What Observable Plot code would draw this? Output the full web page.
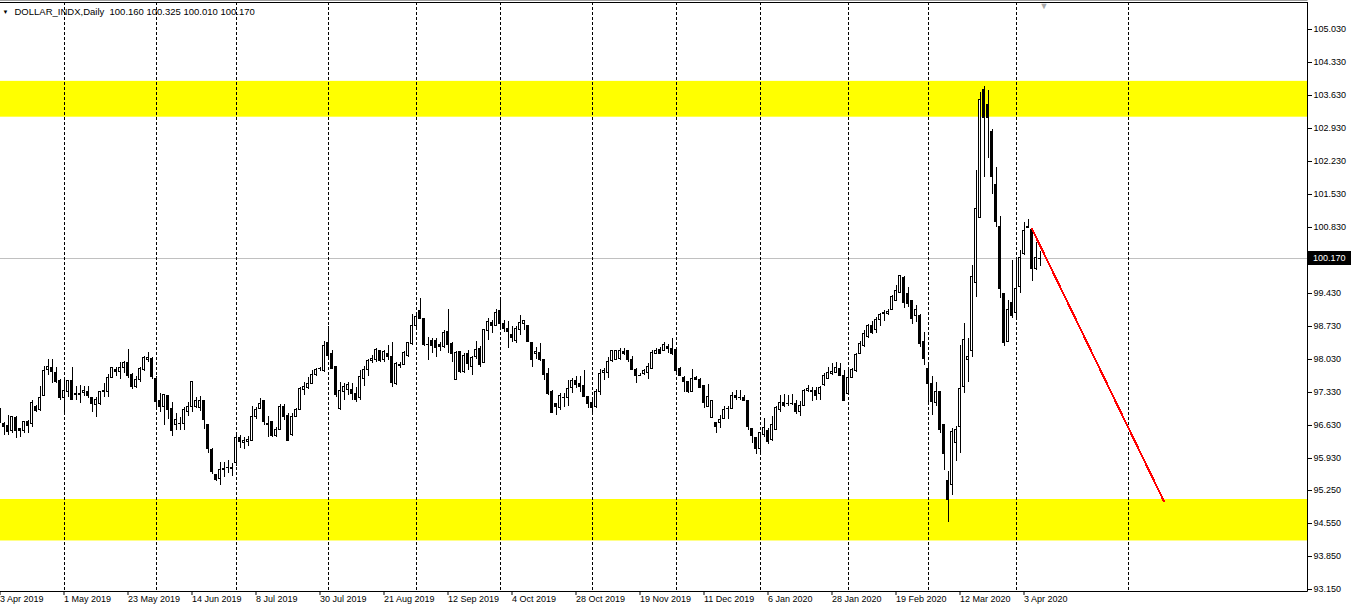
<!DOCTYPE html>
<html><head><meta charset="utf-8">
<script src="https://cdn.jsdelivr.net/npm/d3@7"></script>
<script src="https://cdn.jsdelivr.net/npm/@observablehq/plot@0.6"></script>
<style>
html,body{margin:0;padding:0;background:#fff;}
#chart{position:relative;width:1355px;height:604px;overflow:hidden;}
</style></head><body><div id="chart"></div>
<script>
const symbolName = "DOLLAR_INDX,Daily";
const lastOHLC = [100.160, 100.325, 100.010, 100.170];

const opens = [96.70,
96.67,96.61,96.51,96.79,96.55,96.51,96.71,96.67,97.03,96.95,
97.25,97.80,97.85,97.75,97.58,97.22,97.34,97.58,97.28,97.29,
97.32,97.35,97.22,97.07,97.08,97.34,97.35,97.64,97.80,97.76,
97.85,97.95,97.70,97.44,97.60,97.80,98.01,98.05,97.62,97.14,
97.02,97.25,96.97,96.63,96.66,96.67,96.91,97.02,97.02,97.00,
97.14,96.65,96.11,95.58,95.50,95.69,95.72,95.71,95.83,96.37,
96.26,96.28,96.30,96.82,96.98,97.14,96.67,96.70,96.40,96.54,
97.02,96.84,96.42,96.81,96.96,97.39,97.43,97.51,97.71,97.82,
97.78,98.39,98.14,97.88,96.98,97.35,97.39,97.39,97.30,97.22,
97.62,97.80,97.99,98.01,98.21,98.02,98.15,98.09,97.50,97.90,
97.92,98.11,98.36,98.74,99.05,98.88,98.35,98.43,98.43,98.33,
98.29,98.62,98.36,97.60,98.19,97.76,98.15,97.88,98.08,98.26,
97.95,98.63,98.81,98.74,99.05,98.79,98.68,98.54,98.43,98.65,
98.79,98.73,98.38,98.14,98.16,98.02,97.73,97.34,97.08,97.00,
97.21,97.21,97.43,97.58,97.51,97.46,97.23,97.10,97.02,97.34,
97.74,97.75,97.99,98.02,98.04,98.19,98.20,98.01,97.81,97.69,
97.73,97.74,97.83,98.15,98.24,98.20,98.29,98.26,98.24,97.83,
97.64,97.55,97.35,97.64,97.60,97.46,97.03,96.79,96.69,96.68,
96.77,96.98,96.97,97.25,97.23,97.22,97.15,96.56,96.37,96.14,
96.43,96.52,96.33,96.54,96.96,97.11,97.08,97.10,97.09,96.91,
97.05,97.37,97.37,97.37,97.29,97.48,97.62,97.73,97.75,97.83,
97.69,97.29,97.64,97.78,98.15,98.31,98.50,98.74,98.65,98.86,
99.02,98.99,99.08,99.28,99.44,99.76,99.41,99.27,98.96,98.96,
98.40,97.82,97.50,97.10,97.34,96.63,95.46,95.37,96.26,96.60,
97.44,98.02,98.22,99.66,101.04,103.74,103.42,102.85,101.74,100.85,
99.41,98.40,99.23,99.01,99.57,100.27,100.85,100.78,99.95,100.16];

const highs = [96.98,
96.70,96.84,96.82,96.81,96.56,96.72,96.74,97.15,97.05,97.46,
97.88,98.04,98.04,97.85,97.60,97.58,97.58,97.85,97.46,97.48,
97.46,97.46,97.22,97.22,97.35,97.51,97.71,97.85,97.85,97.97,
97.99,98.24,97.73,97.66,97.85,98.09,98.18,98.07,97.66,97.30,
97.29,97.27,97.11,96.88,96.79,97.02,97.12,97.56,97.23,97.25,
97.16,96.65,96.14,95.60,95.85,95.85,95.89,95.82,96.42,96.42,
96.38,96.40,97.03,97.02,97.20,97.17,96.81,96.72,96.59,97.07,
97.08,96.88,96.89,96.98,97.44,97.55,97.64,97.80,97.83,97.85,
98.42,98.72,98.22,97.88,97.55,97.51,97.55,97.51,97.44,97.80,
97.88,98.02,98.11,98.26,98.22,98.22,98.33,98.38,97.97,97.97,
98.19,98.40,98.98,99.03,99.32,98.89,98.50,98.48,98.47,98.40,
98.65,99.08,98.40,98.19,98.20,98.15,98.21,98.09,98.42,98.31,
98.66,98.89,98.86,99.10,99.34,98.86,98.84,98.72,98.72,98.96,
98.86,98.75,98.40,98.29,98.36,98.04,97.83,97.37,97.10,97.30,
97.30,97.58,97.62,97.66,97.66,97.80,97.23,97.16,97.39,97.81,
97.83,98.08,98.23,98.23,98.26,98.27,98.22,98.09,97.83,97.74,
97.81,97.94,98.21,98.27,98.28,98.38,98.35,98.47,98.26,97.87,
97.67,97.56,97.81,97.67,97.62,97.48,97.49,97.16,96.70,96.84,
97.03,97.03,97.34,97.37,97.37,97.27,97.16,96.57,96.38,96.49,
96.77,96.56,96.81,97.03,97.27,97.29,97.27,97.29,97.17,97.13,
97.39,97.48,97.44,97.44,97.46,97.74,97.87,97.95,97.97,97.94,
97.80,97.81,97.83,98.15,98.42,98.65,98.77,98.84,98.93,99.01,
99.06,99.08,99.38,99.60,99.81,99.79,99.55,99.28,99.18,98.98,
98.61,97.97,97.66,97.55,97.36,96.63,95.66,96.56,96.60,98.33,
98.80,98.47,100.02,102.04,103.70,103.82,103.74,102.90,102.11,101.06,
99.41,99.28,100.12,100.12,100.34,100.94,101.01,100.80,100.52,100.325];

const lows = [96.67,
96.42,96.42,96.47,96.35,96.38,96.45,96.45,96.59,96.91,96.93,
97.25,97.70,97.53,97.53,97.16,96.86,97.23,97.17,97.17,97.10,
97.25,97.20,96.91,96.79,97.05,97.22,97.22,97.62,97.66,97.60,
97.73,97.63,97.39,97.41,97.55,97.78,97.97,97.61,97.02,96.91,
96.64,96.75,96.40,96.52,96.52,96.52,96.81,96.91,96.98,96.93,
96.54,96.04,95.60,95.44,95.36,95.53,95.62,95.55,95.75,96.14,
96.11,96.18,96.30,96.75,96.96,96.63,96.38,96.38,96.37,96.52,
96.74,96.30,96.40,96.79,96.95,97.27,97.39,97.51,97.66,97.78,
97.76,98.02,97.83,97.23,96.95,97.16,97.27,97.16,97.12,97.16,
97.46,97.66,97.94,97.97,97.97,97.97,98.01,97.44,97.48,97.83,
97.90,98.08,98.33,98.65,98.87,98.31,98.01,98.15,98.08,98.19,
98.26,98.15,97.97,97.58,97.74,97.74,97.80,97.69,98.02,97.85,
97.94,98.43,98.59,98.72,98.65,98.61,98.27,98.40,98.36,98.54,
98.65,98.38,97.87,98.04,97.99,97.58,97.27,96.88,96.84,96.95,
97.02,97.03,97.30,97.41,97.34,97.22,97.00,96.88,96.98,97.27,
97.58,97.62,97.97,98.01,98.01,98.11,97.97,97.80,97.53,97.66,
97.69,97.60,97.81,98.13,98.13,98.19,98.16,98.12,97.71,97.66,
97.34,97.30,97.32,97.58,97.41,97.00,97.02,96.77,96.47,96.56,
96.76,96.76,96.96,97.16,97.15,97.13,96.52,96.24,96.02,95.99,
96.38,96.23,96.30,96.52,96.91,97.02,97.03,97.05,96.86,96.81,
97.03,97.34,97.13,97.16,97.16,97.46,97.60,97.69,97.73,97.66,
97.15,97.27,97.62,97.76,98.14,98.29,98.47,98.56,98.58,98.72,
98.84,98.96,99.06,99.25,99.42,99.11,99.13,98.77,98.82,98.28,
97.90,97.10,96.84,97.03,96.47,95.68,94.58,95.15,95.87,96.04,
97.30,97.55,98.08,99.35,101.04,101.88,102.29,101.54,100.84,99.32,
98.31,98.38,98.89,98.93,99.42,100.24,100.82,99.69,99.92,100.01];

const closes = [96.84,
96.59,96.49,96.81,96.52,96.51,96.71,96.62,97.11,96.93,97.22,
97.78,97.87,97.76,97.56,97.22,97.37,97.58,97.17,97.29,97.28,
97.37,97.25,97.09,97.16,97.33,97.37,97.64,97.84,97.76,97.85,
97.95,97.69,97.44,97.60,97.83,98.06,98.07,97.66,97.12,97.02,
97.28,96.96,96.51,96.74,96.67,96.95,97.02,97.55,97.14,97.15,
96.74,96.14,95.65,95.48,95.68,95.70,95.73,95.72,96.37,96.28,
96.31,96.33,96.82,96.96,97.09,96.70,96.66,96.40,96.54,97.02,
96.82,96.31,96.81,96.96,97.41,97.44,97.51,97.71,97.81,97.83,
98.31,98.11,97.83,97.27,97.37,97.44,97.48,97.30,97.18,97.66,
97.81,97.99,98.04,98.23,97.99,98.19,98.08,97.53,97.94,97.91,
98.16,98.38,98.75,98.93,98.89,98.34,98.35,98.31,98.27,98.29,
98.60,98.34,98.15,98.17,97.76,98.11,97.94,98.07,98.23,97.92,
98.65,98.82,98.74,99.02,98.79,98.68,98.61,98.48,98.67,98.80,
98.84,98.40,98.01,98.19,98.01,97.71,97.30,96.89,97.02,97.25,
97.22,97.41,97.57,97.48,97.44,97.23,97.08,97.00,97.34,97.73,
97.78,97.97,98.20,98.20,98.20,98.15,98.01,97.81,97.69,97.69,
97.78,97.87,98.17,98.20,98.15,98.33,98.26,98.15,97.78,97.67,
97.55,97.34,97.62,97.60,97.43,97.10,97.23,97.14,96.60,96.74,
96.96,96.99,97.25,97.22,97.23,97.15,96.60,96.40,96.14,96.47,
96.58,96.28,96.64,97.01,97.10,97.05,97.09,97.10,96.91,97.04,
97.37,97.41,97.34,97.25,97.42,97.67,97.74,97.76,97.85,97.67,
97.15,97.64,97.80,98.12,98.35,98.57,98.73,98.60,98.87,98.98,
98.99,99.04,99.35,99.49,99.81,99.23,99.20,98.89,99.07,98.36,
98.04,97.51,97.13,97.34,96.54,96.03,95.04,96.49,96.54,97.41,
98.45,98.09,99.79,101.23,103.54,103.15,103.15,101.90,100.94,99.53,
98.38,99.08,98.95,99.53,100.19,100.75,100.82,99.94,100.19,100.17];

// month separators (bar index)
const separatorBars = [16, 39, 59, 82, 104, 125, 148, 169, 190, 212, 232, 254, 282];
// date labels on the time axis (bar index and text)
const dateLabelBars = [0, 16, 32, 48, 64, 80, 96, 112, 128, 144, 160, 176, 192, 208, 224, 240, 256];
const dateLabels = ["3 Apr 2019","1 May 2019","23 May 2019","14 Jun 2019","8 Jul 2019","30 Jul 2019",
  "21 Aug 2019","12 Sep 2019","4 Oct 2019","28 Oct 2019","19 Nov 2019","11 Dec 2019",
  "6 Jan 2020","28 Jan 2020","19 Feb 2020","12 Mar 2020","3 Apr 2020"];
// price axis ticks
const priceTicks = [105.03,104.33,103.63,102.93,102.23,101.53,100.83,99.43,98.73,98.03,97.33,96.63,95.93,95.25,94.55,93.85,93.15];
// yellow zones
const zoneLow = [103.17, 94.18];
const zoneHigh = [103.93, 95.06];
// red trend line
const trendBars = [258, 291];
const trendPrices = [100.80, 95.02];

const candles = opens.map((o, i) => ({i, open: o, high: highs[i], low: lows[i], close: closes[i]}));
const zones = zoneLow.map((lo, j) => ({lo, hi: zoneHigh[j]}));
const trend = trendBars.map((b, j) => ({i: b, p: trendPrices[j]}));
const labelMap = new Map(dateLabelBars.map((b, j) => [b, dateLabels[j]]));
const lastClose = lastOHLC[3];
const fmt = d3.format(".3f");
const FONT = "'Liberation Sans', Arial, sans-serif";

const chart = Plot.plot({
  width: 1355, height: 604,
  marginLeft: 0, marginRight: 48, marginTop: 2, marginBottom: 13,
  style: {fontFamily: FONT, fontSize: "9px", color: "#000", background: "#fff", overflow: "visible"},
  x: {type: "linear", domain: [0.125, 326.875], axis: null, label: null},
  y: {domain: [93.108, 105.603], axis: null, label: null},
  marks: [
    Plot.rect(zones, {y1: "lo", y2: "hi", fill: "#ffff00"}),
    Plot.ruleY([lastClose], {stroke: "#c0c0c0", shapeRendering: "crispEdges"}),
    Plot.ruleX(separatorBars, {stroke: "#000", strokeDasharray: "3,2", shapeRendering: "crispEdges"}),
    Plot.ruleX(candles, {x: "i", y1: "low", y2: "high", stroke: "#000", shapeRendering: "crispEdges"}),
    Plot.rect(candles, {x1: d => d.i - 0.25, x2: d => d.i + 0.25, y1: "open", y2: "close",
      fill: d => d.close >= d.open ? "#fff" : "#000", stroke: "#000", shapeRendering: "crispEdges"}),
    Plot.ruleY(candles.filter(d => Math.abs(d.close - d.open) < 0.02),
      {y: "close", x1: d => d.i - 0.375, x2: d => d.i + 0.375, stroke: "#000", shapeRendering: "crispEdges"}),
    Plot.line(trend, {x: "i", y: "p", stroke: "#ff0000", strokeWidth: 2, shapeRendering: "crispEdges"}),
    Plot.axisY(priceTicks, {anchor: "right", label: null, tickSize: 4, tickPadding: 2, tickFormat: fmt, fontSize: 9}),
    Plot.axisX(dateLabelBars, {anchor: "bottom", label: null, tickSize: 4, tickPadding: 0, textAnchor: "start",
      tickFormat: d => labelMap.get(d), fontSize: 9}),
    Plot.text([symbolName + "  " + lastOHLC.map(fmt).join(" ")],
      {frameAnchor: "top-left", dx: 14, dy: 6, lineAnchor: "top", textAnchor: "start", fontSize: 9.5, fill: "#000"}),
    Plot.text(["▼"], {frameAnchor: "top-left", dx: 2, dy: 7, lineAnchor: "top", textAnchor: "start", fontSize: 6, fill: "#000"}),
    Plot.text([candles.length], {x: d => d, frameAnchor: "top", dy: 0, lineAnchor: "top", text: () => "▼", fontSize: 9, fill: "#a8a8a8"})
  ]
});

document.getElementById("chart").appendChild(chart);

// frame lines and current price label
const svg = d3.select(chart);
const ys = chart.scale("y");
const right = 1307.5, bottom = 591.5;
svg.append("line").attr("x1", 0).attr("x2", right).attr("y1", 0.5).attr("y2", 0.5).attr("stroke", "#a0a0a0");
svg.append("line").attr("x1", 0).attr("x2", right).attr("y1", 2.5).attr("y2", 2.5).attr("stroke", "#000");
svg.append("line").attr("x1", right).attr("x2", right).attr("y1", 2).attr("y2", bottom).attr("stroke", "#000");
svg.append("line").attr("x1", 0).attr("x2", right).attr("y1", bottom).attr("y2", bottom).attr("stroke", "#000");
const yc = Math.round(ys.apply(lastClose));
svg.append("rect").attr("x", 1308).attr("y", yc - 7).attr("width", 43).attr("height", 14).attr("fill", "#000");
svg.append("text").attr("x", 1313).attr("y", yc).attr("dy", "0.35em").attr("fill", "#fff")
  .attr("text-anchor", "start").attr("font-family", FONT).attr("font-size", 9).text(fmt(lastClose));
</script>
</body></html>
